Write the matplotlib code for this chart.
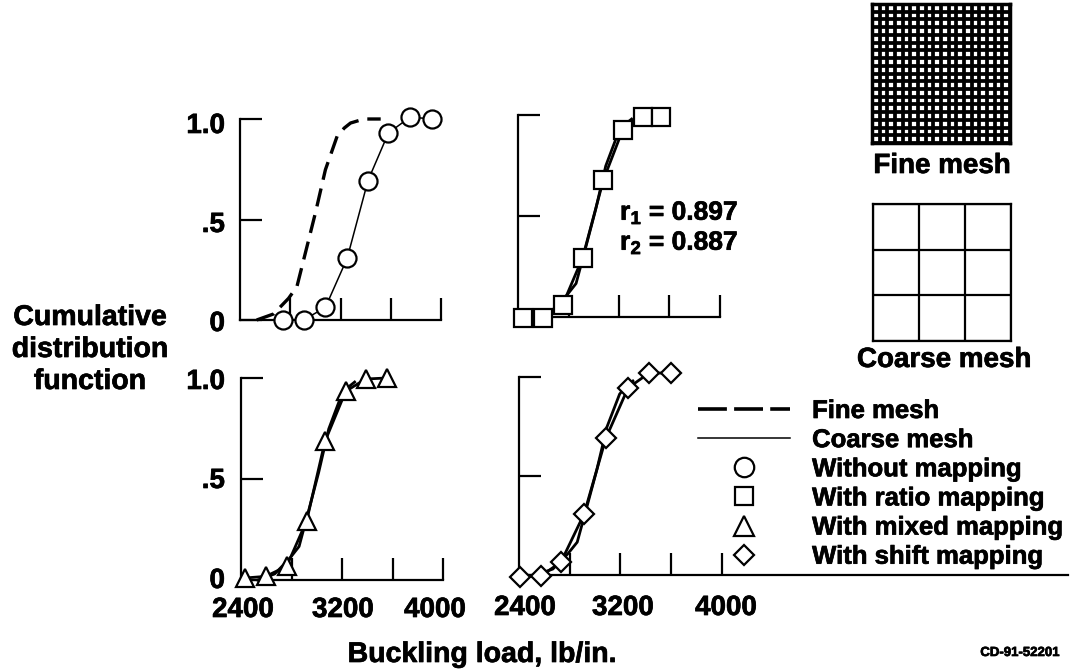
import numpy as np
import matplotlib
matplotlib.use("Agg")
import matplotlib.pyplot as plt
import matplotlib.patheffects as pe
from matplotlib.lines import Line2D

plt.rcParams["font.family"] = ["Liberation Sans", "DejaVu Sans"]
plt.rcParams["font.weight"] = "bold"
plt.rcParams["mathtext.fontset"] = "custom"
plt.rcParams["mathtext.bf"] = "Liberation Sans:bold"
plt.rcParams["mathtext.rm"] = "Liberation Sans:bold"

W, H = 1072, 669

# DATA
fine_x = [2533, 2667, 2787, 2853, 2933, 3000, 3080, 3173, 3230, 3280, 3387, 3520]
fine_y = [0, 0.03, 0.108, 0.166, 0.365, 0.532, 0.748, 0.914, 0.955, 0.98, 1.0, 1.0]

# fine mesh curve as it runs in the three mapped panels, stops under the last markers
fine_mapped_x = [2533, 2667, 2787, 2860, 2945, 3015, 3095, 3195, 3250, 3300]
fine_mapped_y = [0, 0.03, 0.108, 0.166, 0.365, 0.532, 0.748, 0.914, 0.955, 0.98]

without_x = [2741, 2906, 3080, 3253, 3419, 3581, 3755, 3925]
without_y = [0, 0, 0.063, 0.307, 0.694, 0.93, 1.01, 1.0]

ratio_x = [2442, 2600, 2754, 2912, 3076, 3229, 3387, 3530]
ratio_y = [-0.005, -0.005, 0.061, 0.294, 0.678, 0.926, 0.988, 0.988]

mixed_x = [2432, 2596, 2762, 2920, 3065, 3229, 3387, 3554]
mixed_y = [0.01, 0.018, 0.068, 0.293, 0.686, 0.934, 0.995, 1.0]

shift_x = [2408, 2574, 2732, 2914, 3087, 3261, 3427, 3600]
shift_y = [-0.01, -0.005, 0.066, 0.308, 0.692, 0.944, 1.02, 1.02]

x_ticks = [2800, 3200, 3600, 4000]
y_ticks = [0, 0.5, 1.0]
y_labels = ["0", ".5", "1.0"]
x_labels = ["2400", "3200", "4000"]

legend_labels = ["Fine mesh", "Coarse mesh", "Without mapping", "With ratio mapping",
                 "With mixed mapping", "With shift mapping"]

FS = 20
dash = (0, (5.5, 2.7))
heavy = [pe.withStroke(linewidth=0.5, foreground="black")]


def px_axes(left, right, top, bottom):
    return fig.add_axes([left / W, 1 - bottom / H, (right - left) / W, (bottom - top) / H])


def px_text(x, y, s, size=FS, ha="center"):
    t = fig.text(x / W, 1 - y / H, s, fontsize=size, fontweight="bold", ha=ha, va="center",
                 color="black")
    t.set_path_effects(heavy)


def panel(box, xs, ys, marker, ms, x_max=4000, overlap=True):
    ax = px_axes(*box)
    ax.set_xlim(2400, x_max)
    ax.set_ylim(0, 1)
    ax.patch.set_alpha(0)
    for s in ["top", "right"]:
        ax.spines[s].set_visible(False)
    for s in ["left", "bottom"]:
        ax.spines[s].set_linewidth(1.6)
    ax.set_xticks(x_ticks)
    ax.set_yticks(y_ticks)
    ax.set_xticklabels([])
    ax.set_yticklabels([])
    ax.tick_params(direction="in", length=16, width=1.6)
    if overlap:
        # fine mesh sits right on the coarse curve here, reads as one thick line
        ax.plot(fine_mapped_x, fine_mapped_y, color="black", lw=2.0, clip_on=False, zorder=3)
        ax.plot(xs, ys, color="black", lw=2.0, clip_on=False, zorder=3)
    else:
        ax.plot(fine_x, fine_y, color="black", lw=2.4, ls=dash, clip_on=False, zorder=3)
        ax.plot(xs, ys, color="black", lw=1.1, clip_on=False, zorder=3)
    ax.plot(xs, ys, ls="none", marker=marker, ms=ms, mfc="white", mec="black", mew=1.6,
            clip_on=False, zorder=4)
    return ax


fig = plt.figure(figsize=(W / 100, H / 100), dpi=100)

panel((240, 441, 119, 320), without_x, without_y, "o", 13, overlap=False)
panel((518, 720, 115, 317), ratio_x, ratio_y, "s", 13)
panel((241, 443, 378, 580), mixed_x, mixed_y, "^", 13)
panel((519, 1068, 377, 575), shift_x, shift_y, "D", 10, x_max=2400 + 549 * 7.9)

# y tick labels, left column only
for ypos, lab in zip([324, 225, 126], y_labels):
    px_text(225, ypos, lab, ha="right")
for ypos, lab in zip([581, 481, 382], y_labels):
    px_text(225, ypos, lab, ha="right")

# x tick labels, bottom row only
for xpos, lab in zip([243, 343, 435], x_labels):
    px_text(xpos, 610, lab)
for xpos, lab in zip([525, 623, 726], x_labels):
    px_text(xpos, 608, lab)

for y, s in zip([318, 350, 382], ["Cumulative", "distribution", "function"]):
    px_text(90, y, s, size=20.5)
px_text(482, 655, "Buckling load, lb/in.", size=20.5)
px_text(1020, 653, "CD-91-52201", size=9.5)

px_text(620, 213, r"r$_{\mathbf{1}}$ = 0.897", size=19, ha="left")
px_text(620, 243, r"r$_{\mathbf{2}}$ = 0.887", size=19, ha="left")

# mesh sketches
fine = px_axes(872, 1010, 4, 143)
fine.set_xlim(0, 18)
fine.set_ylim(0, 18)
fine.set_xticks(np.arange(19))
fine.set_yticks(np.arange(19))
fine.tick_params(length=0, labelbottom=False, labelleft=False)
fine.grid(True, color="black", lw=2.7)
fine.set_axisbelow(False)
for s in fine.spines.values():
    s.set_linewidth(2.5)

coarse = px_axes(873, 1011, 204, 341)
coarse.set_xlim(0, 3)
coarse.set_ylim(0, 3)
coarse.set_xticks(np.arange(4))
coarse.set_yticks(np.arange(4))
coarse.tick_params(length=0, labelbottom=False, labelleft=False)
coarse.grid(True, color="black", lw=1.6)
for s in coarse.spines.values():
    s.set_linewidth(1.6)

px_text(942, 166, "Fine mesh")
px_text(944, 360, "Coarse mesh")

handles = [
    Line2D([], [], color="black", lw=2.6, ls=(0, (8, 2))),
    Line2D([], [], color="black", lw=1.1),
    Line2D([], [], ls="none", marker="o", ms=14, mfc="white", mec="black", mew=1.6),
    Line2D([], [], ls="none", marker="s", ms=13, mfc="white", mec="black", mew=1.6),
    Line2D([], [], ls="none", marker="^", ms=14, mfc="white", mec="black", mew=1.6),
    Line2D([], [], ls="none", marker="D", ms=10, mfc="white", mec="black", mew=1.6),
]
leg = fig.legend(handles, legend_labels, frameon=False, fontsize=18.5, loc="upper left",
                 bbox_to_anchor=(698 / W, 1 - 399 / H), borderpad=0, borderaxespad=0,
                 handlelength=3.58, handletextpad=0.86, labelspacing=0.2, alignment="left")
for t in leg.get_texts():
    t.set_path_effects(heavy)

fig.savefig("out.png", dpi=100)
